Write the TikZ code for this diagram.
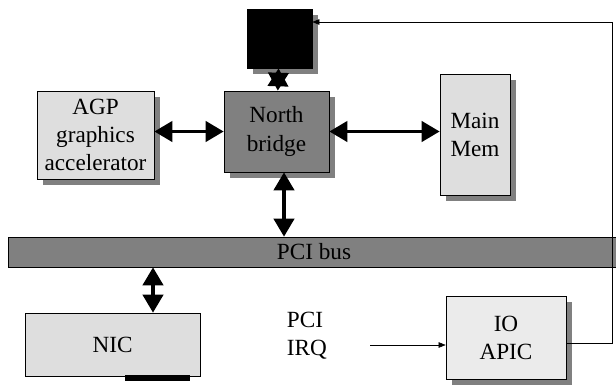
\documentclass[tikz,border=0pt]{standalone}
\usepackage{fontspec}
\setmainfont{Liberation Serif}
\usetikzlibrary{arrows.meta, shadows}
\definecolor{boxfill}{rgb}{0.87, 0.87, 0.87}
\definecolor{iofill}{rgb}{0.92, 0.92, 0.92}
\definecolor{chipfill}{rgb}{0.5, 0.5, 0.5}
\tikzset{
  unit/.style={draw, fill=boxfill, align=center, inner sep=0pt, font=\fontsize{16.5}{20}\selectfont},
  shadowed/.style={drop shadow={shadow xshift=0.15cm, shadow yshift=-0.15cm, opacity=1, fill=chipfill}},
  link/.style={line width=2.8pt, {Triangle[length=0.45cm,width=0.5cm]}-{Triangle[length=0.45cm,width=0.5cm]}},
  wire/.style={line width=0.4pt, -{Triangle[length=0.18cm,width=0.14cm]}}
}
\begin{document}
\begin{tikzpicture}[x=0.025cm, y=-0.025cm]
		\useasboundingbox (0,0) rectangle (616,388);
		\node [unit,shadowed,fill=black,text=black,minimum width=1.625cm,minimum height=1.475cm](cpu) at (279.5,38.5){CPU};
		\node [unit,shadowed,fill=chipfill,minimum width=2.625cm,minimum height=2.025cm](nb) at (276.5,131.5){North\\bridge};
		\node [unit,shadowed,minimum width=2.925cm,minimum height=2.2cm](agp) at (95.5,135){AGP\\graphics\\accelerator};
		\node [unit,shadowed,minimum width=1.75cm,minimum height=3.025cm](mem) at (475,134.5){Main\\Mem};
		\node [unit,fill=chipfill,minimum width=15.2cm,minimum height=0.75cm](bus) at (312,252){\hspace{0.1cm}PCI bus};
		\node [unit,minimum width=4.375cm,minimum height=1.575cm](nic) at (112.5,344.5){NIC};
		\node [fill=black,inner sep=0pt,minimum width=1.625cm,minimum height=0.15cm](port) at (157.5,378){};
		\node [unit,shadowed,fill=iofill,minimum width=3cm,minimum height=2.075cm](io) at (506,337.5){IO\\APIC};
		\node [align=left,anchor=west,font=\fontsize{16.5}{20}\selectfont](irq) at (282,336){PCI\\IRQ};
		\coordinate (irqin) at (370,345);

		\draw[link](cpu)--(nb);
		\draw[link](agp.east|-nb)--(nb.west);
		\draw[link](nb.east)--(mem.west|-nb);
		\draw[link](nb.south-|284,0)--(bus.north-|284,0);
		\draw[link](bus.south-|153,0)--(nic.north-|153,0);
		\draw[wire](irqin)--(io.west|-irqin);
		\draw[wire]([yshift=-0.14cm]io.east)-|(612,22)--(cpu.east|-612,22);
\end{tikzpicture}
\end{document}
